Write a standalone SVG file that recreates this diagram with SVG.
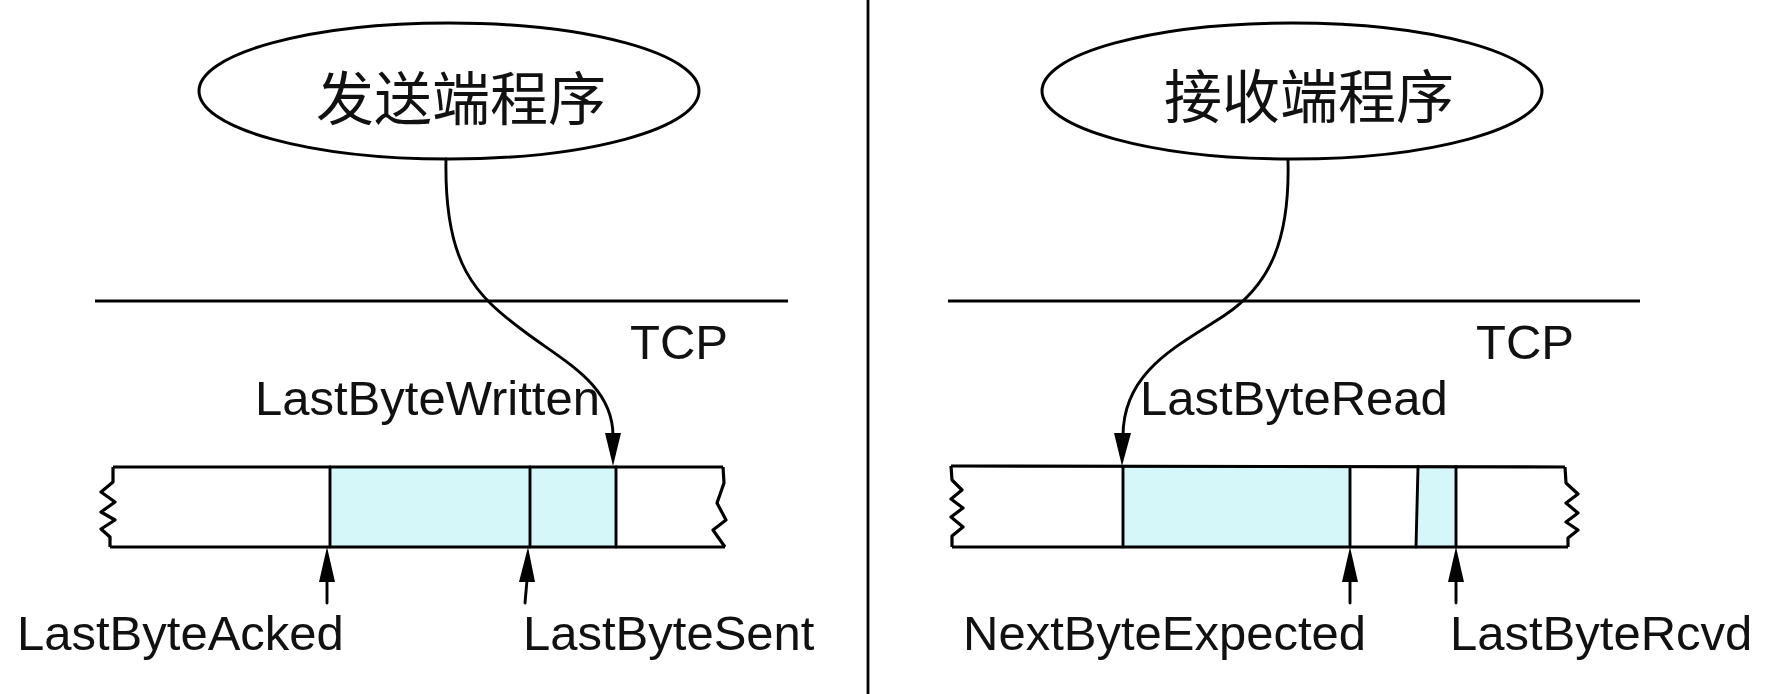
<svg xmlns="http://www.w3.org/2000/svg" width="1774" height="694" viewBox="0 0 1774 694">
<style>
.ln{fill:none;stroke:#000;stroke-width:2.9;stroke-linejoin:round;stroke-linecap:round}
.edge{fill:none;stroke:#000;stroke-width:3.2;stroke-linejoin:round}
.fill{fill:#d5f7fa;stroke:none}
.lbl{font-family:"Liberation Sans",Arial,sans-serif;font-size:49px;fill:#111}
.cjk{font-family:"Noto Sans CJK SC","Noto Sans CJK TC",sans-serif;font-size:58px;fill:#111;text-anchor:middle}
.ah{fill:#000;stroke:none}
</style>
<rect width="1774" height="694" fill="#fff"/>
<line id="divider" x1="868" y1="0" x2="868" y2="694" stroke="#000" stroke-width="2.8"/>

<g id="sender-app">
  <ellipse cx="449" cy="91" rx="250" ry="68" fill="#fff" stroke="#000" stroke-width="3"/>
  <text class="cjk" x="461" y="120">发送端程序</text>
</g>
<g id="receiver-app">
  <ellipse cx="1292" cy="91" rx="250" ry="68" fill="#fff" stroke="#000" stroke-width="3"/>
  <text class="cjk" x="1309" y="118">接收端程序</text>
</g>

<g id="tcp-left">
  <line x1="95" y1="301" x2="788" y2="301" stroke="#000" stroke-width="3.2"/>
  <text class="lbl" x="630" y="359">TCP</text>
</g>
<g id="tcp-right">
  <line x1="948" y1="301" x2="1640" y2="301" stroke="#000" stroke-width="3.2"/>
  <text class="lbl" x="1476" y="359">TCP</text>
</g>

<g id="send-buffer">
  <rect class="fill" x="330" y="467" width="286" height="80"/>
  <path class="edge" d="M113,467 L723,467 M110,547 L725,547"/>
  <path class="edge" d="M113,467 L113,482 L101,492 L115,502 L101,512 L115,520 L101,529 L110,537 L110,547"/>
  <path class="edge" d="M723,467 L724,483 L717,503 L726,520 L713,530 L725,547"/>
  <path class="ln" d="M330,467 L330,547 M530,467 L530,547 M616,467 L616,547"/>
</g>
<g id="recv-buffer">
  <rect class="fill" x="1123" y="467" width="227" height="80"/>
  <polygon class="fill" points="1418,467 1456,467 1456,547 1416,547"/>
  <path class="edge" d="M951,466 L1565,467 M952,547 L1568,547"/>
  <path class="edge" d="M951,466 L952,480 L962,490 L951,499 L963,508 L951,517 L963,527 L952,536 L952,547"/>
  <path class="edge" d="M1565,467 L1566,483 L1578,494 L1566,503 L1578,513 L1566,522 L1578,530 L1568,538 L1568,547"/>
  <path class="ln" d="M1123,467 L1123,547 M1350,467 L1350,547 M1418,467 L1416,547 M1456,467 L1456,547"/>
</g>

<g id="connectors">
  <path class="ln" d="M446,159 C444,265 475,295 525,332 C565,362 613,385 613,436"/>
  <polygon class="ah" points="605,433 621,433 613,466"/>
  <path class="ln" d="M1288,160 C1290,240 1270,285 1225,315 C1180,345 1123,370 1123,436"/>
  <polygon class="ah" points="1114,433 1131,433 1122,466"/>
  <path class="ln" d="M327,603 L327,580"/>
  <polygon class="ah" points="319,582 335,582 327,547"/>
  <path class="ln" d="M525,603 L527,580"/>
  <polygon class="ah" points="519,582 535,582 528,547"/>
  <path class="ln" d="M1350,603 L1350,580"/>
  <polygon class="ah" points="1342,582 1358,582 1350,547"/>
  <path class="ln" d="M1456,603 L1456,580"/>
  <polygon class="ah" points="1448,582 1464,582 1456,547"/>
</g>

<g id="labels">
  <text class="lbl" x="255" y="415">LastByteWritten</text>
  <text class="lbl" x="1140" y="415">LastByteRead</text>
  <text class="lbl" x="17" y="650">LastByteAcked</text>
  <text class="lbl" x="523" y="650">LastByteSent</text>
  <text class="lbl" x="963" y="650">NextByteExpected</text>
  <text class="lbl" x="1450" y="650">LastByteRcvd</text>
</g>
</svg>
